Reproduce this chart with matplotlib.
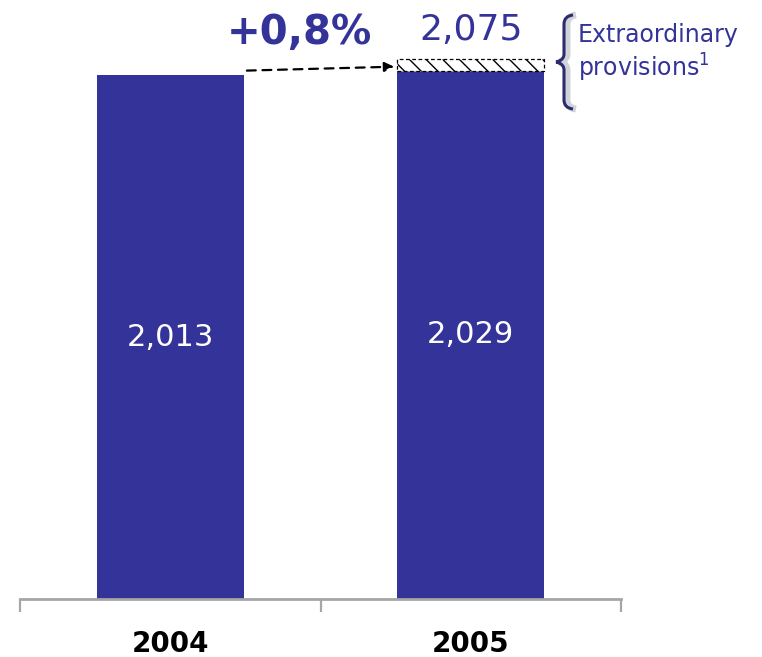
import matplotlib
matplotlib.use("Agg")
import matplotlib.pyplot as plt
from matplotlib.path import Path
from matplotlib.patches import PathPatch

# data
years = ["2004", "2005"]
base_values = [2013, 2029]
extra_provisions = [0, 46]          # 2005 extraordinary provisions on top
total_label = "2,075"
growth_label = "+0,8%"
base_labels = ["2,013", "2,029"]

BLUE = "#333399"
GREY = "#a6a6a6"
W, H = 762, 657

plt.rcParams["font.family"] = ["DejaVu Sans"]
plt.rcParams["hatch.linewidth"] = 1.0
fig = plt.figure(figsize=(W / 100, H / 100), dpi=100)

# axes spans x 20..621 px, y 0..599 px
ax = fig.add_axes([20 / W, 1 - 599 / H, 601 / W, 599 / H])
ax.set_xlim(-0.5, 1.5)
ax.set_ylim(0, 599 / 0.2603)

x = list(range(len(years)))
ax.bar(x, base_values, width=0.49, color=BLUE, zorder=2)
tops = [b + e for b, e in zip(base_values, extra_provisions)]
ax.bar(x[1], extra_provisions[1], bottom=base_values[1], width=0.49,
       facecolor="white", edgecolor="black", hatch="\\\\", linestyle=(0, (3, 2)),
       linewidth=0.9, zorder=2)

for xi, v, lab in zip(x, base_values, base_labels):
    ax.text(xi, v / 2, lab, color="white", fontsize=22, ha="center", va="center")

ax.text(x[1], tops[1] + 110, total_label, color=BLUE, fontsize=26,
        ha="center", va="center")
ax.text(0.43, tops[1] + 100, growth_label, color=BLUE, fontsize=29,
        fontweight="bold", ha="center", va="center")

ax.annotate("", xy=(0.745, 2045), xytext=(0.255, 2030),
            arrowprops=dict(arrowstyle="-|>", color="black", lw=1.6,
                            linestyle=(0, (4, 3)), mutation_scale=14,
                            shrinkA=0, shrinkB=0))

# axis styling
for s in ["top", "right", "left"]:
    ax.spines[s].set_visible(False)
ax.spines["bottom"].set_color(GREY)
ax.spines["bottom"].set_linewidth(2)
ax.set_yticks([])
ax.set_xticks(x)
ax.set_xticklabels(years, fontsize=20, fontweight="bold")
ax.tick_params(axis="x", length=0, pad=22)
ax.set_xticks([-0.5, 0.5, 1.5], minor=True)
ax.tick_params(axis="x", which="minor", length=9, width=1.6, color=GREY)


# brace for extraordinary provisions (drawn in figure pixel coords)
def fp(px, py):
    return (px / W, 1 - py / H)


verts = [fp(573, 15), fp(564, 16), fp(564, 24),
         fp(564, 54),
         fp(564, 61), fp(556, 62), fp(556, 62),
         fp(556, 62), fp(564, 63), fp(564, 70),
         fp(564, 100),
         fp(564, 108), fp(573, 109)]
codes = [Path.MOVETO, Path.CURVE3, Path.CURVE3,
         Path.LINETO,
         Path.CURVE4, Path.CURVE4, Path.CURVE4,
         Path.CURVE4, Path.CURVE4, Path.CURVE4,
         Path.LINETO,
         Path.CURVE3, Path.CURVE3]
shadow = [(vx + 3 / W, vy) for vx, vy in verts]
fig.add_artist(PathPatch(Path(shadow, codes), facecolor="none", edgecolor="#d0d4d8",
                         lw=5, transform=fig.transFigure))
fig.add_artist(PathPatch(Path(verts, codes), facecolor="none", edgecolor="#2b2b6e",
                         lw=2.2, transform=fig.transFigure))

fig.text(578 / W, 1 - 35 / H, "Extraordinary", color=BLUE, fontsize=17,
         ha="left", va="center")
fig.text(578 / W, 1 - 68 / H, "provisions$^1$", color=BLUE, fontsize=17,
         ha="left", va="center")

fig.savefig("out.png", dpi=100)
